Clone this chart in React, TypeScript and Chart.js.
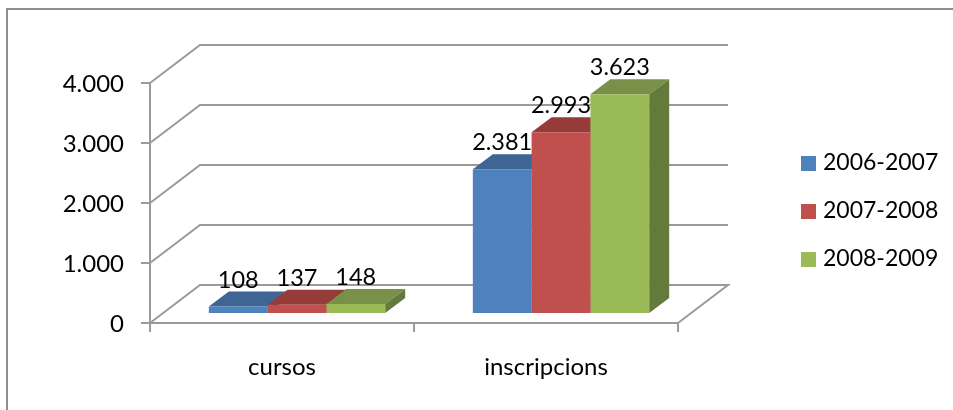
import React, { useEffect, useRef } from "react";
import { Chart, registerables } from "chart.js";

Chart.register(...registerables);

const categories = ["cursos", "inscripcions"];
const seriesNames = ["2006-2007", "2007-2008", "2008-2009"];
const values2006 = [108, 2381];
const values2007 = [137, 2993];
const values2008 = [148, 3623];
const yTicks = [0, 1000, 2000, 3000, 4000];

const FRONT = ["#4F81BD", "#C0504D", "#9BBB59"];
const TOP = ["#3E6594", "#953B39", "#789048"];
const SIDE = ["#345479", "#7B302F", "#647A3C"];
const GRID = "#9A9A9A";
const TEXT = "#000000";
const FONT = "Lato";

const WALL_DX = 50;
const WALL_DY = 38;
const BAR_DX = 20;
const BAR_DY = 15;
const BAR_SHIFT = 15;

const fmt = (v: number) => String(v).replace(/\B(?=(\d{3})+$)/g, ".");

function swatch(color: string) {
  const c = document.createElement("canvas");
  c.width = 15;
  c.height = 15;
  const g = c.getContext("2d")!;
  g.fillStyle = color;
  g.fillRect(0, 0, 15, 15);
  return c;
}

const scene = {
  id: "scene",
  beforeDraw(chart: any) {
    const { ctx, width, height } = chart;
    ctx.save();
    ctx.fillStyle = "#fff";
    ctx.fillRect(0, 0, width, height);
    ctx.strokeStyle = "#8E8E8E";
    ctx.lineWidth = 2;
    ctx.beginPath();
    ctx.moveTo(7, height);
    ctx.lineTo(7, 9);
    ctx.lineTo(width, 9);
    ctx.stroke();
    ctx.restore();
  },
  afterLayout(chart: any) {
    const l = chart.legend;
    if (!l) return;
    const w = l.width;
    const h = l.height;
    l.left = 805.5 - l.options.labels.padding;
    l.right = l.left + w;
    l.top = 126.5;
    l.bottom = l.top + h;
  },
  beforeDatasetsDraw(chart: any) {
    const { ctx, chartArea, scales } = chart;
    ctx.save();
    ctx.strokeStyle = GRID;
    ctx.lineWidth = 2;
    ctx.lineJoin = "miter";
    yTicks.forEach((t) => {
      const y = scales.y.getPixelForValue(t);
      ctx.beginPath();
      ctx.moveTo(chartArea.left, y);
      ctx.lineTo(chartArea.left + WALL_DX, y - WALL_DY);
      ctx.lineTo(chartArea.right + WALL_DX, y - WALL_DY);
      if (t === 0) ctx.lineTo(chartArea.right, y);
      ctx.stroke();
    });
    // top and side faces of every bar, left to right
    categories.forEach((_, i) => {
      seriesNames.forEach((__, d) => {
        const bar = chart.getDatasetMeta(d).data[i];
        const l = bar.x - bar.width / 2 + BAR_SHIFT;
        const r = bar.x + bar.width / 2 + BAR_SHIFT;
        const t = bar.y;
        const b = bar.base;
        ctx.fillStyle = TOP[d];
        ctx.beginPath();
        ctx.moveTo(l, t);
        ctx.lineTo(l + BAR_DX, t - BAR_DY);
        ctx.lineTo(r + BAR_DX, t - BAR_DY);
        ctx.lineTo(r, t);
        ctx.closePath();
        ctx.fill();
        ctx.fillStyle = SIDE[d];
        ctx.beginPath();
        ctx.moveTo(r, t);
        ctx.lineTo(r + BAR_DX, t - BAR_DY);
        ctx.lineTo(r + BAR_DX, b - BAR_DY);
        ctx.lineTo(r, b);
        ctx.closePath();
        ctx.fill();
      });
    });
    ctx.restore();
  },
  beforeDatasetDraw(chart: any) {
    chart.ctx.save();
    chart.ctx.translate(BAR_SHIFT, 0);
  },
  afterDatasetDraw(chart: any) {
    chart.ctx.restore();
  },
  afterDatasetsDraw(chart: any) {
    const { ctx } = chart;
    ctx.save();
    ctx.font = `23.5px ${FONT}`;
    ctx.fillStyle = TEXT;
    ctx.textAlign = "center";
    ctx.textBaseline = "middle";
    chart.data.datasets.forEach((ds: any, d: number) => {
      chart.getDatasetMeta(d).data.forEach((bar: any, i: number) => {
        ctx.fillText(fmt(ds.data[i]), bar.x + BAR_SHIFT, bar.y - 26.5);
      });
    });
    ctx.restore();
  },
};

export default function App() {
  const ref = useRef<HTMLCanvasElement>(null);
  useEffect(() => {
    const chart = new Chart(ref.current!, {
      type: "bar",
      data: {
        labels: categories,
        datasets: [values2006, values2007, values2008].map((data, d) => ({
          label: seriesNames[d],
          data,
          backgroundColor: FRONT[d],
          borderWidth: 0,
          xAxisID: "x",
          yAxisID: "yBars",
          barPercentage: 1,
          categoryPercentage: 0.668,
        })),
      },
      plugins: [scene],
      options: {
        responsive: false,
        animation: false,
        layout: { padding: { top: 83, right: 275, left: 0, bottom: 0 } },
        plugins: {
          tooltip: { enabled: false },
          legend: {
            position: "chartArea",
            align: "start",
            labels: {
              font: { family: FONT, size: 23 },
              color: TEXT,
              padding: 25,
              usePointStyle: true,
              pointStyleWidth: 6,
              boxHeight: 15,
              generateLabels: () =>
                seriesNames.map((text, d) => ({
                  text,
                  fillStyle: FRONT[d],
                  strokeStyle: FRONT[d],
                  lineWidth: 0,
                  pointStyle: swatch(FRONT[d]),
                  datasetIndex: d,
                })),
            },
          },
        },
        scales: {
          x: {
            type: "category",
            afterFit: (s: any) => {
              s.height = 87;
            },
            grid: {
              offset: true,
              drawOnChartArea: false,
              drawTicks: true,
              tickLength: 9,
              color: GRID,
              lineWidth: 2,
            },
            border: { color: GRID, width: 2 },
            ticks: {
              color: TEXT,
              font: { family: FONT, size: 24 },
              padding: 21,
              maxRotation: 0,
            },
          },
          y: {
            type: "linear",
            min: 0,
            max: 4000,
            afterFit: (s: any) => {
              s.width = 150;
            },
            afterBuildTicks: (s: any) => {
              s.ticks = yTicks.map((value) => ({ value }));
            },
            grid: {
              drawOnChartArea: false,
              tickLength: 9,
              color: GRID,
              lineWidth: 2,
            },
            border: { color: GRID, width: 2 },
            ticks: {
              color: TEXT,
              font: { family: FONT, size: 24 },
              padding: 17,
              labelOffset: 1.5,
              callback: (v: any) => fmt(Number(v)),
            },
          },
          yBars: {
            type: "linear",
            display: false,
            min: -165.6,
            max: 3808,
          },
        },
      } as any,
    });
    return () => chart.destroy();
  }, []);
  return (
    <canvas
      ref={ref}
      width={953}
      height={410}
      style={{ position: "fixed", left: 0, top: 0, width: 953, height: 410, display: "block" }}
    />
  );
}
